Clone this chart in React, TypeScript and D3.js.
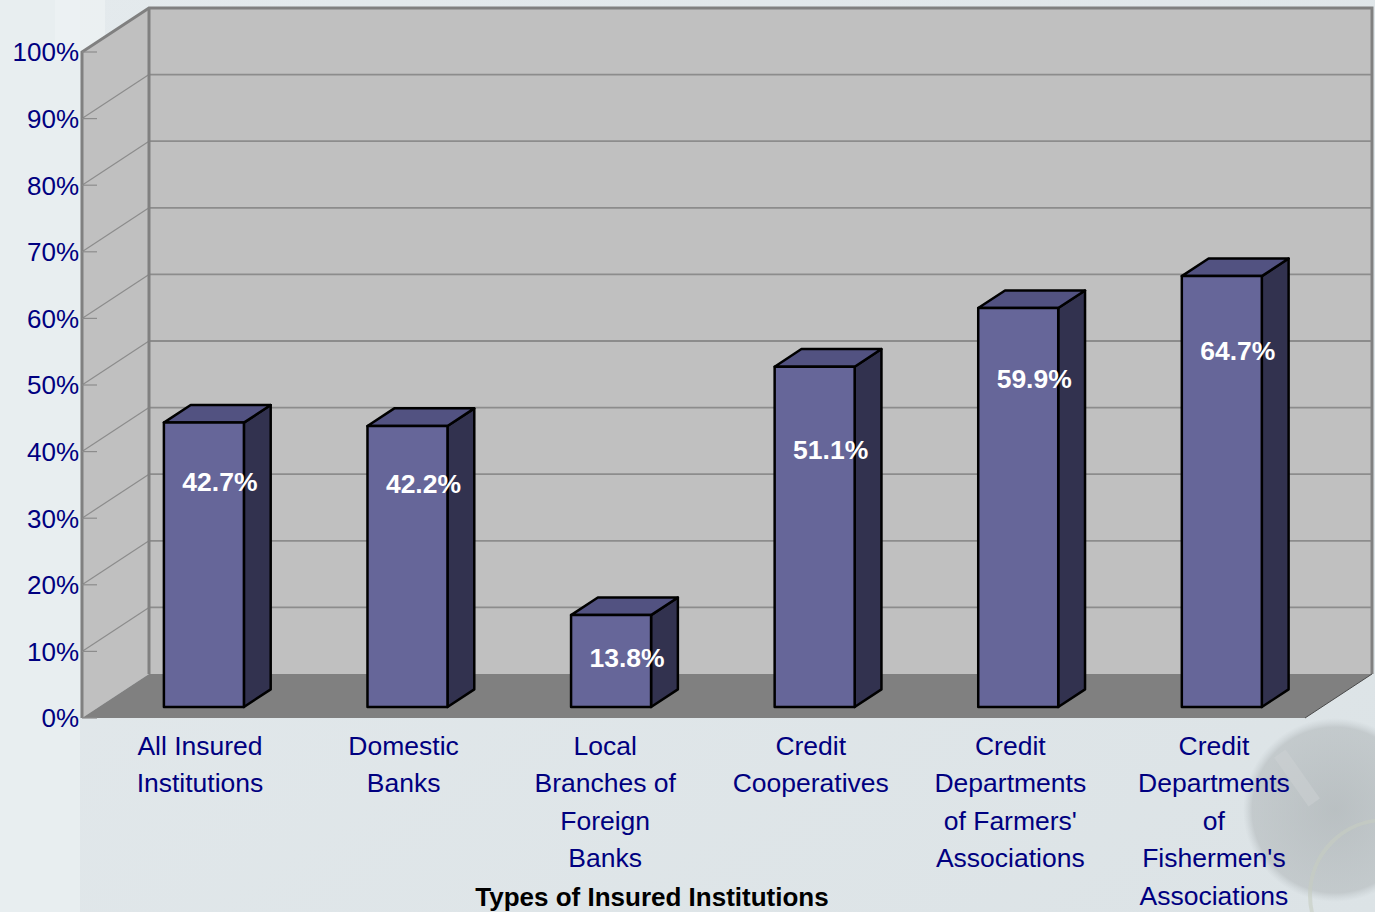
import React from "react";
import * as d3 from "d3";

const categories: string[][] = [
  ["All Insured", "Institutions"],
  ["Domestic", "Banks"],
  ["Local", "Branches of", "Foreign", "Banks"],
  ["Credit", "Cooperatives"],
  ["Credit", "Departments", "of Farmers'", "Associations"],
  ["Credit", "Departments", "of", "Fishermen's", "Associations"],
];
const values: number[] = [42.7, 42.2, 13.8, 51.1, 59.9, 64.7];
const labelAt: number[] = [33.8, 33.5, 7.4, 38.7, 49.4, 53.5];
const yTicks: number[] = [0, 10, 20, 30, 40, 50, 60, 70, 80, 90, 100];
const axisTitle = "Types of Insured Institutions";

const W = 1375;
const H = 912;
const FONT = "'Liberation Sans', Arial, sans-serif";
const DX = 67;
const DY = -44;

export default function App() {
  const y = d3.scaleLinear().domain([0, 100]).range([718, 52]);
  const ids = categories.map((_, i) => String(i));
  const x = d3.scaleBand<string>().domain(ids).range([82, 1303.5]).padding(0);
  const bw = x.bandwidth();
  const p = (px: number, py: number, d: number): [number, number] => [px + d * DX, py + d * DY];
  const poly = (pts: [number, number][]) => pts.map((q) => q.join(",")).join(" ");

  const x0 = 82, x1 = 1305;
  const yBase = y(0), yTop = y(100);
  const dFront = 0.25, dBack = 0.65;
  const barW = 80;
  const barOff = bw * 0.32;
  const labelShift = [0, 0, -2, 0, -4, -4];

  return (
    <svg width={W} height={H} style={{ position: "absolute", left: 0, top: 0 }} fontFamily={FONT}>
      <defs>
        <linearGradient id="bg" x1="0" y1="0" x2="1" y2="1">
          <stop offset="0" stopColor="#e4eaed" />
          <stop offset="1" stopColor="#dce3e6" />
        </linearGradient>
        <radialGradient id="comp" cx="0.5" cy="0.5" r="0.5">
          <stop offset="0" stopColor="#a2a8aa" stopOpacity="0.6" />
          <stop offset="0.9" stopColor="#aab0b2" stopOpacity="0.5" />
          <stop offset="1" stopColor="#b8c0c4" stopOpacity="0" />
        </radialGradient>
      </defs>
      <rect width={W} height={H} fill="url(#bg)" />
      <rect x={0} y={0} width={80} height={H} fill="#e8eef0" />
      <rect x={55} y={0} width={50} height={60} fill="#eef2f4" opacity={0.7} />
      <circle cx={1335} cy={810} r={92} fill="url(#comp)" />
      <circle cx={1385} cy={895} r={75} fill="none" stroke="#c6cdc2" strokeWidth={4} opacity={0.6} />
      <rect x={1290} y={748} width={14} height={60} fill="#cdd2d4" opacity={0.5} transform="rotate(-35 1297 778)" />

      {/* side wall */}
      <polygon points={poly([p(x0, yBase, 0), p(x0, yTop, 0), p(x0, yTop, 1), p(x0, yBase, 1)])} fill="#c0c0c0" />
      {/* back wall */}
      <polygon points={poly([p(x0, yBase, 1), p(x0, yTop, 1), p(x1, yTop, 1), p(x1, yBase, 1)])} fill="#c0c0c0" />
      {/* floor */}
      <polygon points={poly([p(x0, yBase, 0), p(x0, yBase, 1), p(x1, yBase, 1), p(x1, yBase, 0)])} fill="#808080" />

      {/* gridlines */}
      {yTicks.filter((t) => t > 0).map((t) => {
        const a = p(x0, y(t), 0), b = p(x0, y(t), 1), c = p(x1, y(t), 1);
        return (
          <g key={t}>
            <line x1={a[0]} y1={a[1]} x2={b[0]} y2={b[1]} stroke="#8c8c8c" strokeWidth={1.2} />
            <line x1={b[0]} y1={b[1]} x2={c[0]} y2={c[1]} stroke="#8c8c8c" strokeWidth={1.8} />
          </g>
        );
      })}

      {/* wall borders */}
      <polyline points={poly([p(x0, yBase, 0), p(x0, yTop, 0), p(x0, yTop, 1), p(x1, yTop, 1), p(x1, yBase, 1)])} fill="none" stroke="#808080" strokeWidth={3} />
      <line x1={p(x0, yTop, 1)[0]} y1={p(x0, yTop, 1)[1]} x2={p(x0, yBase, 1)[0]} y2={p(x0, yBase, 1)[1]} stroke="#808080" strokeWidth={3} />
      <line x1={p(x1, yBase, 1)[0]} y1={p(x1, yBase, 1)[1]} x2={p(x1, yBase, 0)[0]} y2={p(x1, yBase, 0)[1]} stroke="#4a4a4a" strokeWidth={1} />

      {/* y ticks */}
      {yTicks.map((t) => (
        <g key={t}>
          <line x1={x0} y1={y(t)} x2={x0 + 15} y2={y(t)} stroke="#8c8c8c" strokeWidth={1.2} />
          <text x={79} y={y(t)} dy="0.36em" textAnchor="end" fontSize={26} fill="#000080">{t}%</text>
        </g>
      ))}

      {/* bars */}
      {values.map((v, i) => {
        const bx = x(ids[i])! + barOff;
        const A = p(bx, y(0), dFront), B = p(bx + barW, y(0), dFront);
        const C = p(bx + barW, y(v), dFront), D = p(bx, y(v), dFront);
        const E = p(bx + barW, y(v), dBack), F = p(bx, y(v), dBack), G = p(bx + barW, y(0), dBack);
        const lab = p(bx + barW / 2 + 16, y(labelAt[i]), dFront);
        return (
          <g key={i} stroke="#000" strokeWidth={2.5} strokeLinejoin="round">
            <polygon points={poly([B, C, E, G])} fill="#32324f" />
            <polygon points={poly([D, C, E, F])} fill="#525281" />
            <polygon points={poly([A, B, C, D])} fill="#666699" />
            <text x={lab[0]} y={lab[1]} dy="0.36em" textAnchor="middle" fontSize={26.5} fontWeight="bold" fill="#ffffff" stroke="none">
              {v.toFixed(1)}%
            </text>
          </g>
        );
      })}

      {/* category labels */}
      {categories.map((lines, i) => (
        <text key={i} fontSize={26.5} fill="#000080" textAnchor="middle">
          {lines.map((ln, j) => (
            <tspan key={j} x={x(ids[i])! + 118 + labelShift[i]} y={745 + j * 37.6} dy="0.36em">{ln}</tspan>
          ))}
        </text>
      ))}

      <text x={652} y={897} dy="0.36em" textAnchor="middle" fontSize={26} fontWeight="bold" fill="#000">
        {axisTitle}
      </text>
    </svg>
  );
}
